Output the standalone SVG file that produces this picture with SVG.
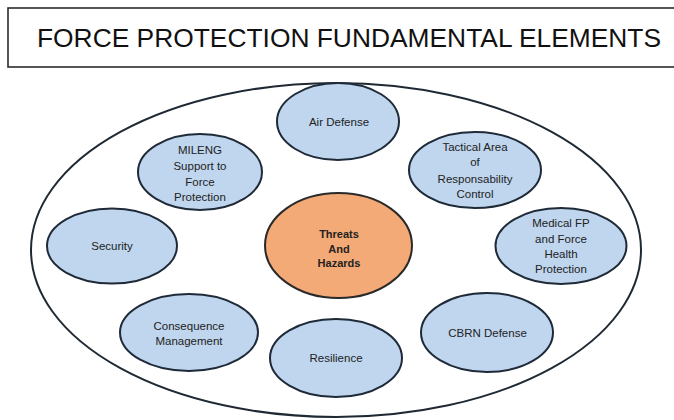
<svg xmlns="http://www.w3.org/2000/svg" width="674" height="420" viewBox="0 0 674 420">
  <style>
    .title { font-family: "Liberation Sans", Arial, sans-serif; font-size: 26px; fill: #111; }
    .frame { fill: #fff; stroke: #2b2b2b; stroke-width: 1.6; }
    .outer { fill: #fff; stroke: #1f2933; stroke-width: 2; }
    .el { fill: #bfd6ee; stroke: #1f2a38; stroke-width: 2; }
    .core { fill: #f4aa76; stroke: #2a2a2a; stroke-width: 2; }
    .lbl { font-family: "Liberation Sans", Arial, sans-serif; font-size: 11.5px; fill: #222; text-anchor: middle; }
    .lblb { font-family: "Liberation Sans", Arial, sans-serif; font-size: 11px; font-weight: bold; fill: #222; text-anchor: middle; }
  </style>
  <rect width="674" height="420" fill="#fff"/>

  <!-- heading -->
  <g id="heading">
    <rect class="frame" x="8" y="8" width="680" height="59"/>
    <text class="title" x="37" y="47" textLength="624" lengthAdjust="spacingAndGlyphs">FORCE PROTECTION FUNDAMENTAL ELEMENTS</text>
  </g>

  <!-- enclosing boundary -->
  <g id="boundary">
    <ellipse class="outer" cx="336" cy="250" rx="305" ry="167"/>
  </g>

  <!-- no connectors in this figure -->
  <g id="connectors"/>

  <g id="air-defense">
    <ellipse class="el" cx="338" cy="121.5" rx="61" ry="38.5"/>
    <text class="lbl" x="339" y="126">Air Defense</text>
  </g>

  <g id="mileng">
    <ellipse class="el" cx="200" cy="172" rx="62" ry="38"/>
    <text class="lbl" x="200" y="154">MILENG</text>
    <text class="lbl" x="200" y="170">Support to</text>
    <text class="lbl" x="200" y="186">Force</text>
    <text class="lbl" x="200" y="201">Protection</text>
  </g>

  <g id="tactical-area">
    <ellipse class="el" cx="475" cy="170" rx="66" ry="38"/>
    <text class="lbl" x="475" y="151">Tactical Area</text>
    <text class="lbl" x="475" y="166">of</text>
    <text class="lbl" x="475" y="183">Responsability</text>
    <text class="lbl" x="475" y="198">Control</text>
  </g>

  <g id="security">
    <ellipse class="el" cx="112" cy="246" rx="65" ry="37.5"/>
    <text class="lbl" x="112" y="250">Security</text>
  </g>

  <g id="threats-hazards">
    <ellipse class="core" cx="338.5" cy="245.5" rx="73.5" ry="52.5"/>
    <text class="lblb" x="339" y="238">Threats</text>
    <text class="lblb" x="339" y="252.5">And</text>
    <text class="lblb" x="339" y="267">Hazards</text>
  </g>

  <g id="medical-fp">
    <ellipse class="el" cx="561" cy="246" rx="65.5" ry="38"/>
    <text class="lbl" x="561" y="227">Medical FP</text>
    <text class="lbl" x="561" y="243">and Force</text>
    <text class="lbl" x="561" y="258">Health</text>
    <text class="lbl" x="561" y="273">Protection</text>
  </g>

  <g id="consequence-management">
    <ellipse class="el" cx="189" cy="332.5" rx="69" ry="38.5"/>
    <text class="lbl" x="189" y="330">Consequence</text>
    <text class="lbl" x="189" y="345">Management</text>
  </g>

  <g id="resilience">
    <ellipse class="el" cx="336" cy="358" rx="66" ry="39"/>
    <text class="lbl" x="336" y="362">Resilience</text>
  </g>

  <g id="cbrn-defense">
    <ellipse class="el" cx="487" cy="332.5" rx="66" ry="39.5"/>
    <text class="lbl" x="487.5" y="337">CBRN Defense</text>
  </g>
</svg>
